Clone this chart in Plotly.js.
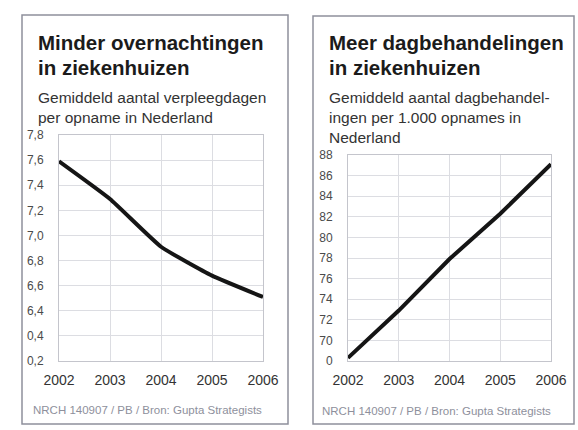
<!DOCTYPE html>
<html>
<head>
<meta charset="utf-8">
<script src="https://cdn.plot.ly/plotly-3.0.1.min.js"></script>
<style>
  html, body { margin: 0; padding: 0; background: #ffffff; }
  #chart { width: 578px; height: 430px; }
</style>
</head>
<body>
<div id="chart"></div>
<script>
// Years on the horizontal axis of both panels
const years = [2002, 2003, 2004, 2005, 2006];
const yearLabels = ['2002', '2003', '2004', '2005', '2006'];

// Average number of nursing days per admission (Netherlands)
const verpleegdagen = [7.59, 7.29, 6.91, 6.68, 6.51];
// Day treatments per 1,000 admissions (Netherlands)
const dagbehandelingen = [68.3, 72.9, 77.9, 82.3, 87.1];

// Tick values and printed tick labels
const leftTickVals = [6.0, 6.2, 6.4, 6.6, 6.8, 7.0, 7.2, 7.4, 7.6, 7.8];
const leftTickText = ['0,2', '0,4', '6,4', '6,6', '6,8', '7,0', '7,2', '7,4', '7,6', '7,8'];
const rightTickVals = [68, 70, 72, 74, 76, 78, 80, 82, 84, 86, 88];
const rightTickText = ['0', '70', '72', '74', '76', '78', '80', '82', '84', '86', '88'];

const W = 578, H = 430;
const fx = p => p / W;
const fy = p => 1 - p / H;

const baseFont = 'Liberation Sans, Arial, sans-serif';

function xAxis(domain, anchor) {
  return {
    domain: domain,
    anchor: anchor,
    range: [2002, 2006],
    tickvals: years,
    ticktext: yearLabels,
    showgrid: true,
    gridcolor: '#dcdde2',
    gridwidth: 1,
    zeroline: false,
    showline: true,
    linecolor: '#c4c5cc',
    linewidth: 1,
    mirror: true,
    ticks: '',
    ticklabelstandoff: 6,
    tickfont: { family: baseFont, size: 14, color: '#333333' },
    fixedrange: true
  };
}

function yAxis(domain, anchor, range, vals, text, size) {
  return {
    domain: domain,
    anchor: anchor,
    range: range,
    tickvals: vals,
    ticktext: text,
    showgrid: true,
    gridcolor: '#dcdde2',
    gridwidth: 1,
    zeroline: false,
    showline: true,
    linecolor: '#c4c5cc',
    linewidth: 1,
    mirror: true,
    ticks: '',
    ticklabelstandoff: 12,
    tickfont: { family: baseFont, size: size, color: '#4a4a4a' },
    fixedrange: true
  };
}

const traces = [
  {
    x: years, y: verpleegdagen,
    xaxis: 'x', yaxis: 'y',
    type: 'scatter', mode: 'lines',
    line: { color: '#151515', width: 4, shape: 'spline', smoothing: 0.4 },
    hoverinfo: 'skip'
  },
  {
    x: years, y: dagbehandelingen,
    xaxis: 'x2', yaxis: 'y2',
    type: 'scatter', mode: 'lines',
    line: { color: '#151515', width: 4 },
    hoverinfo: 'skip'
  }
];

function text(x, y, str, size, color, bold) {
  return {
    xref: 'paper', yref: 'paper',
    x: fx(x), y: fy(y),
    xanchor: 'left', yanchor: 'middle',
    showarrow: false,
    text: bold ? '<b>' + str + '</b>' : str,
    font: { family: baseFont, size: size, color: color }
  };
}

const annotations = [
  text(36, 43, 'Minder overnachtingen', 20.5, '#1b1b1b', true),
  text(36, 68, 'in ziekenhuizen', 20.5, '#1b1b1b', true),
  text(36, 97, 'Gemiddeld aantal verpleegdagen', 15.5, '#333333', false),
  text(36, 117, 'per opname in Nederland', 15.5, '#333333', false),
  text(31, 410, 'NRCH 140907 / PB / Bron: Gupta Strategists', 11.5, '#8e909c', false),

  text(327, 43, 'Meer dagbehandelingen', 20.5, '#1b1b1b', true),
  text(327, 68, 'in ziekenhuizen', 20.5, '#1b1b1b', true),
  text(327, 97, 'Gemiddeld aantal dagbehandel-', 15.5, '#333333', false),
  text(327, 117, 'ingen per 1.000 opnames in', 15.5, '#333333', false),
  text(327, 137, 'Nederland', 15.5, '#333333', false),
  text(320, 411, 'NRCH 140907 / PB / Bron: Gupta Strategists', 11.5, '#8e909c', false)
];

function frame(x0, y0, x1, y1) {
  return {
    type: 'rect', xref: 'paper', yref: 'paper',
    x0: fx(x0), x1: fx(x1), y0: fy(y1), y1: fy(y0),
    line: { color: '#8e909c', width: 1.5 },
    fillcolor: 'rgba(0,0,0,0)',
    layer: 'below'
  };
}

const layout = {
  width: W, height: H,
  margin: { l: 0, r: 0, t: 0, b: 0 },
  paper_bgcolor: '#ffffff',
  plot_bgcolor: '#ffffff',
  showlegend: false,
  xaxis: xAxis([fx(59), fx(263)], 'y'),
  yaxis: yAxis([fy(361), fy(135)], 'x', [6.0, 7.8], leftTickVals, leftTickText, 12),
  xaxis2: xAxis([fx(348), fx(551)], 'y2'),
  yaxis2: yAxis([fy(361), fy(155)], 'x2', [68, 88], rightTickVals, rightTickText, 12),
  annotations: annotations,
  shapes: [frame(22, 15, 288, 424), frame(313, 16, 574, 424)]
};

Plotly.newPlot('chart', traces, layout, { staticPlot: true, displayModeBar: false });
</script>
</body>
</html>
